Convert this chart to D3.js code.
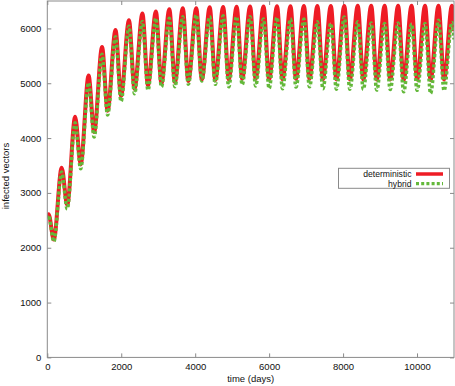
<!DOCTYPE html>
<html lang="en">
<head>
<meta charset="utf-8">
<script src="https://d3js.org/d3.v7.min.js"></script>
<style>
  body { margin: 0; background: #fff; }
  text { font-family: "Liberation Sans", Arial, Helvetica, sans-serif; font-size: 9.5px; fill: #111; }
</style>
</head>
<body>
<script>
// turning points of the curves (start, yearly peaks / troughs, end)
const days = [0, 35, 176,
  389, 539, 753, 903, 1117, 1267, 1481, 1631, 1845, 1995, 2209, 2359,
  2573, 2723, 2937, 3087, 3301, 3451, 3665, 3815, 4029, 4179, 4393, 4543,
  4757, 4907, 5121, 5271, 5485, 5635, 5849, 5999, 6213, 6363, 6577, 6727,
  6941, 7091, 7305, 7455, 7669, 7819, 8033, 8183, 8397, 8547, 8761, 8911,
  9125, 9275, 9489, 9639, 9853, 10003, 10217, 10367, 10581, 10731, 10945, 11000];

const deterministic = [2560, 2610, 2150,
  3460, 2780, 4390, 3520, 5140, 4110, 5660, 4500, 5970, 4770, 6150, 4900,
  6270, 4960, 6310, 5000, 6350, 5020, 6370, 5040, 6370, 5070, 6385, 5060,
  6390, 5070, 6395, 5080, 6400, 5080, 6400, 5070, 6405, 5070, 6405, 5080,
  6410, 5080, 6410, 5070, 6410, 5070, 6410, 5070, 6415, 5070, 6415, 5070,
  6415, 5070, 6415, 5060, 6415, 5070, 6415, 5060, 6415, 5070, 6415, 5950];

const hybrid = [2530, 2590, 2110,
  3380, 2710, 4280, 3440, 5010, 4020, 5530, 4420, 5850, 4670, 6040, 4810,
  6125, 4875, 6185, 4935, 6185, 4935, 6215, 4980, 6245, 5040, 6215, 4980,
  6230, 4935, 6215, 4975, 6215, 4950, 6170, 4905, 6200, 4900, 6170, 4930,
  6170, 4935, 6120, 4900, 6090, 4890, 6210, 4890, 6120, 4890, 6100, 4875,
  6090, 4885, 6100, 4845, 6080, 4870, 6090, 4815, 6150, 4865, 6110, 5800];

const xTicks = [0, 2000, 4000, 6000, 8000, 10000];
const yTicks = [0, 1000, 2000, 3000, 4000, 5000, 6000];
const seriesNames = ["deterministic", "hybrid"];

const W = 455, H = 386;
const pLeft = 47.3, pRight = 454, pTop = 1, pBottom = 357.4;
const red = "#ee1c25", green = "#63b83a", grey = "#8a8a8a";

const svg = d3.select("body").append("svg")
    .attr("width", W)
    .attr("height", H);

const x = d3.scaleLinear().domain([0, 11000]).range([pLeft, pRight]);
const y = d3.scaleLinear().domain([0, 6500]).range([pBottom, pTop]);
const fmt = d3.format("d");

// axes, ticks pointing inwards and mirrored on top / right
function styleAxis(g) {
  g.select(".domain").remove();
  g.selectAll(".tick line").attr("stroke", grey);
  g.selectAll(".tick text").attr("fill", "#111").style("font-size", "9.5px")
    .attr("font-family", null);
}
svg.append("g").attr("transform", `translate(0,${pBottom})`)
  .call(d3.axisBottom(x).tickValues(xTicks).tickFormat(fmt).tickSize(-4).tickPadding(6))
  .call(styleAxis);
svg.append("g").attr("transform", `translate(0,${pTop})`)
  .call(d3.axisTop(x).tickValues(xTicks).tickSize(-4).tickFormat(""))
  .call(styleAxis);
svg.append("g").attr("transform", `translate(${pLeft},0)`)
  .call(d3.axisLeft(y).tickValues(yTicks).tickFormat(fmt).tickSize(-4).tickPadding(6))
  .call(styleAxis);
svg.append("g").attr("transform", `translate(${pRight},0)`)
  .call(d3.axisRight(y).tickValues(yTicks).tickSize(-4).tickFormat(""))
  .call(styleAxis);

svg.append("defs").append("clipPath").attr("id", "plot")
  .append("rect").attr("x", pLeft).attr("y", pTop)
  .attr("width", pRight - pLeft).attr("height", pBottom - pTop);

// series
const line = d3.line()
  .x(function(d, i) { return x(days[i]); })
  .y(function(d) { return y(d); })
  .curve(d3.curveMonotoneX);

svg.append("path")
  .datum(deterministic)
  .attr("clip-path", "url(#plot)")
  .attr("fill", "none")
  .attr("stroke", red)
  .attr("stroke-width", 4)
  .attr("d", line);

svg.append("path")
  .datum(hybrid)
  .attr("clip-path", "url(#plot)")
  .attr("fill", "none")
  .attr("stroke", green)
  .attr("stroke-width", 3.5)
  .attr("stroke-dasharray", "3,2.2")
  .attr("d", line);

// frame
svg.append("rect")
  .attr("x", pLeft).attr("y", pTop)
  .attr("width", pRight - pLeft).attr("height", pBottom - pTop)
  .attr("fill", "none").attr("stroke", grey).attr("stroke-width", 1);

// axis titles
svg.append("text").text("time (days)")
  .attr("x", (pLeft + pRight) / 2).attr("y", 382)
  .attr("text-anchor", "middle");
svg.append("text").text("infected vectors")
  .attr("transform", `translate(9,176) rotate(-90)`)
  .attr("text-anchor", "middle");

// legend
const lg = svg.append("g");
lg.append("rect")
  .attr("x", 338.5).attr("y", 168.3).attr("width", 111).attr("height", 20)
  .attr("fill", "#fff").attr("stroke", grey).attr("stroke-width", 1);
const rows = [{ name: seriesNames[0], color: red, w: 3.5, dash: null, yy: 174.0 },
              { name: seriesNames[1], color: green, w: 3.2, dash: "3,2.2", yy: 183.6 }];
rows.forEach(function(r) {
  lg.append("text").text(r.name)
    .attr("x", 411.5).attr("y", r.yy + 3.1)
    .attr("text-anchor", "end")
    .style("font-size", "8.6px");
  lg.append("line")
    .attr("x1", 416).attr("x2", 443)
    .attr("y1", r.yy).attr("y2", r.yy)
    .attr("stroke", r.color).attr("stroke-width", r.w)
    .attr("stroke-dasharray", r.dash);
});
</script>
</body>
</html>
